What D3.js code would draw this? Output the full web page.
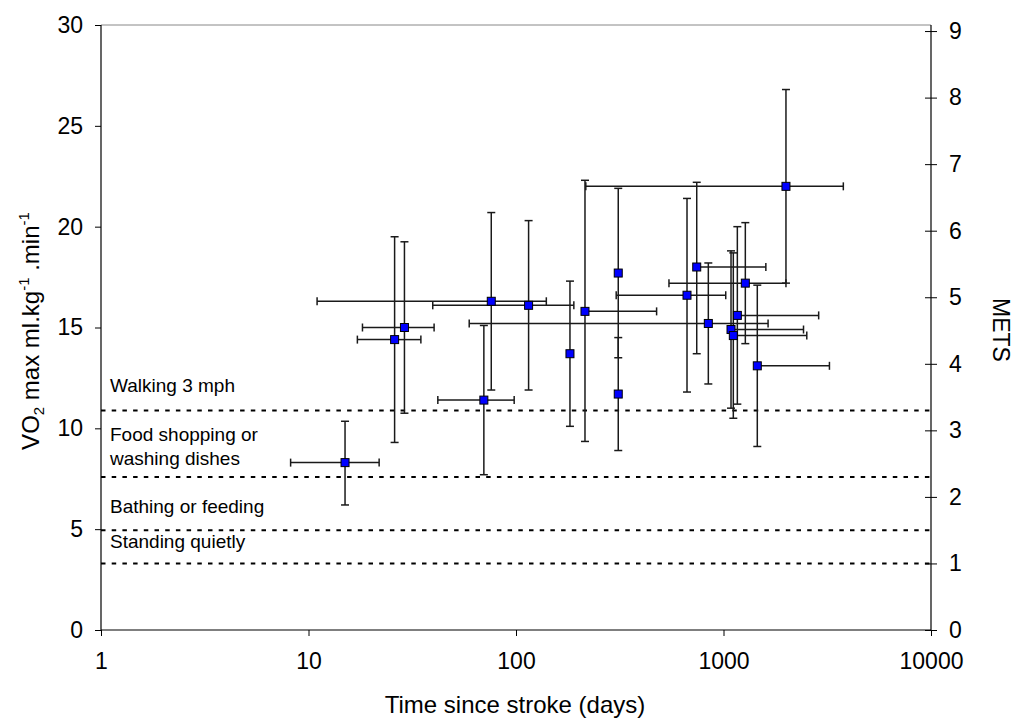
<!DOCTYPE html>
<html>
<head>
<meta charset="utf-8">
<script src="https://cdn.jsdelivr.net/npm/d3@7"></script>
<style>
  body { margin: 0; background: #fff; }
  text { font-family: "Liberation Sans", Arial, sans-serif; fill: #000; }
</style>
</head>
<body>
<svg id="chart" width="1034" height="720"></svg>
<script>
// time since stroke (days) and VO2 max per study, with error bar ends
var days    = [15, 26, 29, 76, 115, 70, 182, 215, 311, 311, 845, 667, 743, 1274, 1166, 1087, 1115, 1455, 2000];
var vo2     = [8.3, 14.4, 15.0, 16.3, 16.1, 11.4, 13.7, 15.8, 17.7, 11.7, 15.2, 16.6, 18.0, 17.2, 15.6, 14.9, 14.6, 13.1, 22.0];
var vo2Low  = [6.2, 9.3, 10.75, 11.9, 11.9, 7.7, 10.1, 9.35, 13.5, 8.9, 12.2, 11.8, 13.7, 14.2, 11.2, 11.0, 10.5, 9.1, 17.2];
var vo2High = [10.35, 19.5, 19.25, 20.7, 20.3, 15.1, 17.3, 22.3, 21.9, 14.5, 18.2, 21.4, 22.2, 20.2, 20.0, 18.8, 18.7, 17.1, 26.8];
var dayLow  = [8.2, 17.2, 18.2, 11, 39.7, 42, null, null, null, null, 59.5, 304, null, 546, null, null, null, null, 217];
var dayHigh = [21.9, 34.8, 40.3, 140, 190, 98, null, 476, null, null, 1640, 1025, 1600, 2000, 2875, 2430, 2520, 3240, 3780];

// activity reference lines (METS) and their labels
var activityMets  = [3.3, 2.3, 1.5, 1];
var activityLabels = [["Walking 3 mph"], ["Food shopping or", "washing dishes"], ["Bathing or feeding"], ["Standing quietly"]];
var activityLabelY = [391.5, 440.5, 513, 548];

var xTicks = [1, 10, 100, 1000, 10000];
var yTicks = [0, 5, 10, 15, 20, 25, 30];
var metTicks = [0, 1, 2, 3, 4, 5, 6, 7, 8, 9];
var ML_PER_MET = 3.3;

var svg = d3.select("#chart");
var plotLeft = 101, plotRight = 931, plotTop = 25, plotBottom = 630;

var x = d3.scaleLog().domain([1, 10000]).range([plotLeft, plotRight]);
var y = d3.scaleLinear().domain([0, 30]).range([plotBottom, plotTop]);
var yMet = d3.scaleLinear().domain([0, 30 / ML_PER_MET]).range([plotBottom, plotTop]);

// top frame line
svg.append("line")
    .attr("x1", plotLeft).attr("x2", plotRight)
    .attr("y1", plotTop).attr("y2", plotTop)
    .attr("stroke", "#888").attr("stroke-width", 1);

// dotted activity lines
svg.append("g").selectAll("line")
    .data(activityMets)
    .join("line")
    .attr("x1", plotLeft).attr("x2", plotRight)
    .attr("y1", function(d) { return yMet(d); })
    .attr("y2", function(d) { return yMet(d); })
    .attr("stroke", "#000")
    .attr("stroke-width", 2)
    .attr("stroke-dasharray", "4.5,6.2");

activityLabels.forEach(function(lines, i) {
    var t = svg.append("text")
        .attr("x", 110)
        .attr("y", activityLabelY[i])
        .attr("font-size", 19);
    lines.forEach(function(s, j) {
        t.append("tspan").attr("x", 110).attr("dy", j === 0 ? 0 : 24).text(s);
    });
});

// axes
var xAxis = svg.append("g")
    .attr("transform", "translate(0," + plotBottom + ")")
    .call(d3.axisBottom(x).tickValues(xTicks).tickFormat(d3.format("d")).tickSize(6).tickPadding(17));
var yAxis = svg.append("g")
    .attr("transform", "translate(" + plotLeft + ",0)")
    .call(d3.axisLeft(y).tickValues(yTicks).tickSize(6).tickPadding(12));
var rAxis = svg.append("g")
    .attr("transform", "translate(" + plotRight + ",0)")
    .call(d3.axisRight(yMet).tickValues(metTicks).tickSize(6).tickPadding(12));
rAxis.selectAll(".tick line").attr("x1", -6);

[xAxis, yAxis, rAxis].forEach(function(g) {
    g.select(".domain").attr("stroke", "#000").attr("stroke-width", 1.2);
    g.selectAll(".tick line").attr("stroke", "#000").attr("stroke-width", 1);
    g.selectAll(".tick text")
        .attr("font-family", "'Liberation Sans', Arial, sans-serif")
        .attr("font-size", 23)
        .attr("fill", "#000");
});
// plain lines at axis ends, without the outer ticks of d3
xAxis.select(".domain").attr("d", "M" + plotLeft + ",0H" + plotRight);
yAxis.select(".domain").attr("d", "M0," + plotTop + "V" + plotBottom);
rAxis.select(".domain").attr("d", "M0," + plotTop + "V" + plotBottom);

// error bars
var cap = 4;
var bars = svg.append("g").attr("stroke", "#1a1a1a").attr("stroke-width", 1.5).attr("fill", "none");
days.forEach(function(d, i) {
    var cx = x(d), cy = y(vo2[i]);
    bars.append("line").attr("x1", cx).attr("x2", cx).attr("y1", y(vo2Low[i])).attr("y2", y(vo2High[i]));
    [vo2Low[i], vo2High[i]].forEach(function(v) {
        bars.append("line").attr("x1", cx - cap).attr("x2", cx + cap).attr("y1", y(v)).attr("y2", y(v));
    });
    [dayLow[i], dayHigh[i]].forEach(function(v) {
        if (v == null) return;
        bars.append("line").attr("x1", cx).attr("x2", x(v)).attr("y1", cy).attr("y2", cy);
        bars.append("line").attr("x1", x(v)).attr("x2", x(v)).attr("y1", cy - cap).attr("y2", cy + cap);
    });
});

// markers
svg.append("g").selectAll("rect")
    .data(days)
    .join("rect")
    .attr("x", function(d) { return x(d) - 4; })
    .attr("y", function(d, i) { return y(vo2[i]) - 4; })
    .attr("width", 8).attr("height", 8)
    .attr("fill", "#0000ff")
    .attr("stroke", "#000")
    .attr("stroke-width", 1);

// axis titles
svg.append("text")
    .attr("x", (plotLeft + plotRight) / 2 - 1)
    .attr("y", 713)
    .attr("text-anchor", "middle")
    .attr("font-size", 24)
    .text("Time since stroke (days)");

svg.append("text")
    .attr("transform", "translate(993,330) rotate(90)")
    .attr("text-anchor", "middle")
    .attr("font-size", 23)
    .text("METS");

var yl = svg.append("text")
    .attr("transform", "translate(39,331) rotate(-90)")
    .attr("text-anchor", "middle")
    .attr("font-size", 24);
yl.append("tspan").text("VO");
yl.append("tspan").attr("font-size", 15).attr("dy", 5).text("2");
yl.append("tspan").attr("dy", -5).text(" max ml.kg");
yl.append("tspan").attr("font-size", 15).attr("dy", -10).text("-1");
yl.append("tspan").attr("dy", 10).text(" .min");
yl.append("tspan").attr("font-size", 15).attr("dy", -10).text("-1");
</script>
</body>
</html>
